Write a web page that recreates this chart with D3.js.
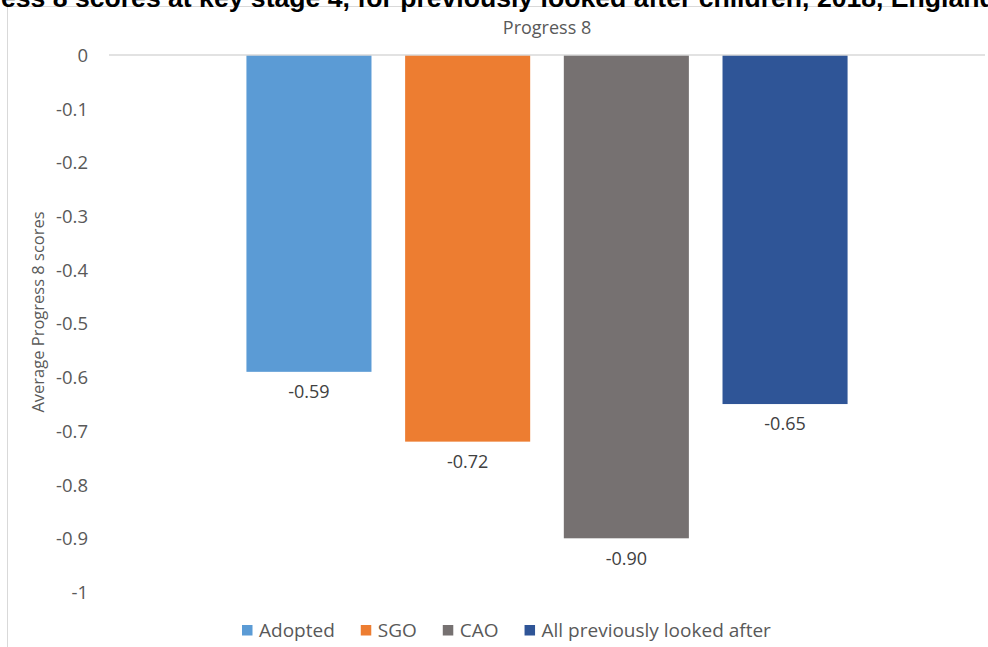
<!DOCTYPE html>
<html><head><meta charset="utf-8">
<script src="https://cdn.jsdelivr.net/npm/d3@7"></script>
<style>
html,body{margin:0;padding:0;background:#fff;overflow:hidden;}
svg{display:block;}
</style></head>
<body>
<svg id="chart" width="988" height="647"></svg>
<script>
const category = "Progress 8";
const series = ["Adopted", "SGO", "CAO", "All previously looked after"];
const values = [-0.59, -0.72, -0.90, -0.65];
const colors = ["#5b9bd5", "#ed7d31", "#767171", "#2f5597"];
const yTicks = [0, -0.1, -0.2, -0.3, -0.4, -0.5, -0.6, -0.7, -0.8, -0.9, -1];
const titlePre = "Figure 1: Average Progr";
const titleRest = "ess 8 scores at key stage 4, for previously looked after children, 2018, England";
const yAxisTitle = "Average Progress 8 scores";

const svg = d3.select("#chart");
const font = "'Open Sans', sans-serif";
const textCol = "#595959";
const fmtTick = d => d === 0 ? "0" : (d === -1 ? "-1" : d3.format(".1f")(d).replace("\u2212", "-"));
const fmtVal = v => d3.format(".2f")(v).replace("\u2212", "-");

// frame
svg.append("rect").attr("x", 7.5).attr("y", 6.5).attr("width", 1000).attr("height", 700)
  .attr("fill", "#fff").attr("stroke", "#d9d9d9").attr("stroke-width", 1);

// cropped title
const t = svg.append("text").attr("y", 7).attr("font-family", "'Liberation Sans', Arial, sans-serif")
  .attr("font-weight", "bold").attr("font-size", 22).attr("fill", "#000");
const tp = t.append("tspan").text(titlePre);
const tr = t.append("tspan").text(titleRest);
const fs = 22 * 995 / tr.node().getComputedTextLength();
t.attr("font-size", fs);
t.attr("x", -tp.node().getComputedTextLength() + 1);

const plot = {left: 109, right: 985, top: 55, bottom: 592};

const y = d3.scaleLinear().domain([0, -1]).range([plot.top, plot.bottom]);
const x0 = d3.scaleBand().domain([category]).range([plot.left, plot.right]).padding(0);
const x1 = d3.scaleBand().domain(series).range([0, x0.bandwidth()])
  .paddingInner(0.212).paddingOuter(0.866);

// y axis
const yAxis = d3.axisLeft(y).tickValues(yTicks).tickSize(0).tickPadding(0).tickFormat(fmtTick);
const ya = svg.append("g").attr("transform", `translate(88,0)`).call(yAxis);
ya.select(".domain").remove();
ya.selectAll("text").attr("font-family", font).attr("font-size", 18.5).attr("fill", textCol).attr("dy", "0.35em");

// y axis title
svg.append("text").attr("transform", `translate(44,312) rotate(-90)`)
  .attr("text-anchor", "middle").attr("font-family", font).attr("font-size", 16.5).attr("fill", textCol)
  .text(yAxisTitle);

// bars
const g = svg.append("g").attr("transform", `translate(${x0(category)},0)`);
g.selectAll("rect.bar").data(series).join("rect").attr("class", "bar")
  .attr("x", d => x1(d)).attr("width", x1.bandwidth())
  .attr("y", y(0)).attr("height", (d, i) => y(values[i]) - y(0))
  .attr("fill", (d, i) => colors[i]);

// zero line
svg.append("line").attr("x1", plot.left).attr("x2", plot.right).attr("y1", y(0)).attr("y2", y(0))
  .attr("stroke", "#d9d9d9").attr("stroke-width", 1.3);

// category label
const xa = svg.append("g").attr("transform", `translate(0,${plot.top - 27})`)
  .call(d3.axisTop(x0).tickSize(0).tickPadding(0));
xa.select(".domain").remove();
xa.selectAll("text").attr("font-family", font).attr("font-size", 18).attr("fill", textCol).attr("dy", "0.35em");

// data labels
g.selectAll("text.lbl").data(series).join("text").attr("class", "lbl")
  .attr("x", d => x1(d) + x1.bandwidth() / 2)
  .attr("y", (d, i) => y(values[i]) + 20).attr("dy", "0.35em")
  .attr("text-anchor", "middle").attr("font-family", font).attr("font-size", 18).attr("fill", "#404040")
  .text((d, i) => fmtVal(values[i]));

// legend
const legend = svg.append("g").attr("transform", "translate(0,630)");
let lx = 242;
series.forEach((s, i) => {
  const it = legend.append("g").attr("transform", `translate(${lx},0)`);
  it.append("rect").attr("x", 0).attr("y", -5).attr("width", 10.5).attr("height", 10.5).attr("fill", colors[i]);
  const tx = it.append("text").attr("x", 17).attr("dy", "0.35em").attr("font-family", font)
    .attr("font-size", 19).attr("fill", textCol).text(s);
  lx += 17 + tx.node().getComputedTextLength() + 26;
});
</script>
</body></html>
